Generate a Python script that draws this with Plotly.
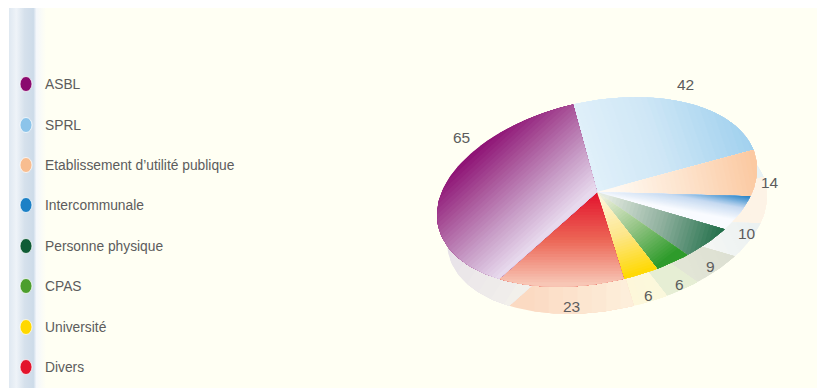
import math
import plotly.graph_objects as go

# Legend order
categories = ["ASBL", "SPRL", "Etablissement d\u2019utilité publique", "Intercommunale",
              "Personne physique", "CPAS", "Université", "Divers"]
values = [65, 42, 14, 10, 9, 6, 6, 23]
legend_colors = ["#8a0a6e", "#8cc4ea", "#f8bd90", "#1c80c6", "#0f5c36", "#4c9e2e", "#ffd800", "#e3142c"]

# Clockwise drawing order of the slices, starting from the top edge of SPRL
slice_order = [1, 2, 3, 4, 5, 6, 7, 0]

# Tilted pie projection
CX, CY = 597.0, 192.0
RX, RY_COS, RY_SIN = 160.0, 23.0, 92.0
START_T = 98.6
DEPTH = (10.0, 27.0)

# Linear gradient of each slice top: from point, to point, colour stops
top_gradients = {
    "ASBL": ((463, 157), (540, 241), ["#8b0a70", "#a9559a", "#c79cc6", "#e9dcef"]),
    "SPRL": ((575, 195), (752, 135), ["#e6f3fb", "#cfe7f6", "#9fd0ee"]),
    "Etablissement d\u2019utilité publique": ((612, 195), (756, 165), ["#fffaf3", "#fde3cc", "#fbc8a0"]),
    "Intercommunale": ((737, 221), (742, 194), ["#fbfcff", "#c6daf1", "#1a7cc4"]),
    "Personne physique": ((606, 194), (725, 228), ["#e6ece2", "#8fb09e", "#1f6e48"]),
    "CPAS": ((602, 197), (657, 268), ["#eef0dc", "#93c484", "#2b9a28"]),
    "Université": ((600, 198), (625, 278), ["#fdf6d8", "#fde68a", "#ffd900"]),
    "Divers": ((598, 195), (598, 285), ["#e3162f", "#ec6656", "#f8c9b8"]),
}

# Side wall colours, from left end to right end of the slice
side_gradients = {
    "ASBL": ((445, 240), (540, 300), ["#e6e1e8", "#f5f3ec"]),
    "SPRL": ((600, 150), (770, 150), ["#e8f2f4", "#e8f2f4"]),
    "Etablissement d\u2019utilité publique": ((600, 220), (770, 200), ["#fdf4e8", "#fdf3e6"]),
    "Intercommunale": ((700, 260), (770, 225), ["#f6f8f5", "#e9eff0"]),
    "Personne physique": ((690, 280), (740, 258), ["#e2e5d6", "#dcdfd2"]),
    "CPAS": ((660, 290), (700, 280), ["#e6eed4", "#e6eed4"]),
    "Université": ((630, 300), (665, 290), ["#fdf7da", "#fbf8dc"]),
    "Divers": ((520, 300), (635, 300), ["#fbd8c0", "#fdf0dc"]),
}

# Value labels
label_pos = {"ASBL": (461, 137), "SPRL": (685, 84), "Etablissement d\u2019utilité publique": (770, 182),
             "Intercommunale": (747, 233), "Personne physique": (710, 266), "CPAS": (679, 284),
             "Université": (648, 295), "Divers": (571, 306)}

legend_y = [84, 125, 165, 205, 246, 286, 327, 367]


def rim_point(t_deg, shift=(0.0, 0.0)):
    t = math.radians(t_deg)
    return (CX + RX * math.cos(t) + shift[0],
            CY - (RY_COS * math.cos(t) + RY_SIN * math.sin(t)) + shift[1])


def wedge(t0, t1, shift=(0.0, 0.0)):
    steps = max(4, int(abs(t1 - t0) / 1.5))
    pts = [(CX + shift[0], CY + shift[1])]
    pts += [rim_point(t0 + (t1 - t0) * i / steps, shift) for i in range(steps + 1)]
    return pts


def clip(poly, a, b, limit, keep_above):
    """Clip a polygon against the half plane a*x + b*y >= limit (or <=)."""
    out = []
    sign = 1 if keep_above else -1
    n = len(poly)
    for i in range(n):
        p, q = poly[i], poly[(i + 1) % n]
        dp = sign * (a * p[0] + b * p[1] - limit)
        dq = sign * (a * q[0] + b * q[1] - limit)
        if dp >= 0:
            out.append(p)
        if dp * dq < 0:
            r = dp / (dp - dq)
            out.append((p[0] + (q[0] - p[0]) * r, p[1] + (q[1] - p[1]) * r))
    return out


def mix(stops, s):
    s = min(max(s, 0.0), 1.0) * (len(stops) - 1)
    i = min(int(s), len(stops) - 2)
    f = s - i
    c0 = [int(stops[i][k:k + 2], 16) for k in (1, 3, 5)]
    c1 = [int(stops[i + 1][k:k + 2], 16) for k in (1, 3, 5)]
    return "rgb(%d,%d,%d)" % tuple(round(u + (v - u) * f) for u, v in zip(c0, c1))


def add_gradient_polygon(fig, poly, grad, bands=22):
    (x0, y0), (x1, y1), stops = grad
    dx, dy = x1 - x0, y1 - y0
    norm = dx * dx + dy * dy
    a, b = dx / norm, dy / norm
    base = a * x0 + b * y0
    for k in range(bands):
        # Each band runs to the far end so the next one paints over the seam
        part = poly
        if k > 0:
            part = clip(part, a, b, base + k / bands, True)
        if len(part) < 3:
            continue
        xs = [p[0] for p in part] + [part[0][0]]
        ys = [p[1] for p in part] + [part[0][1]]
        fig.add_trace(go.Scatter(x=xs, y=ys, mode="lines", fill="toself", line=dict(width=0),
                                 fillcolor=mix(stops, (k + 0.5) / bands),
                                 hoverinfo="skip", showlegend=False))


total = sum(values)
sweeps = []
t = START_T
for idx in slice_order:
    sweep = values[idx] / total * 360.0
    sweeps.append((idx, t, t - sweep))
    t -= sweep

fig = go.Figure()

# Pale strip down the left side of the page
fig.add_trace(go.Scatter(
    x=[9, 46, 46, 9, 9], y=[8, 8, 388, 388, 8], mode="lines", line=dict(width=0), fill="toself",
    fillgradient=dict(type="horizontal", colorscale=[
        [0.0, "#dfe8f1"], [0.2, "#eef3f8"], [0.42, "#d6e1ec"], [0.66, "#cddbe9"],
        [0.74, "#f4f7fb"], [1.0, "#fffff3"]]),
    hoverinfo="skip", showlegend=False))

# Side wall: a pale copy of the pie, pushed down behind the top
for idx, t0, t1 in sweeps:
    add_gradient_polygon(fig, wedge(t0, t1, DEPTH), side_gradients[categories[idx]], bands=8)

# Pie top
for idx, t0, t1 in sweeps:
    add_gradient_polygon(fig, wedge(t0, t1), top_gradients[categories[idx]], bands=32)

# Value labels
for name, val in zip(categories, values):
    x, y = label_pos[name]
    fig.add_annotation(x=x, y=y, text=str(val), showarrow=False,
                       font=dict(family="Liberation Sans", size=15.5, color="#5c5c5c"))

# Legend
shapes = []
for name, col, y in zip(categories, legend_colors, legend_y):
    shapes.append(dict(type="circle", xref="x", yref="y", x0=20, x1=32, y0=y - 7.5, y1=y + 7.5,
                       fillcolor=col, line=dict(color="rgba(255,255,255,0.75)", width=1)))
    fig.add_annotation(x=42.5, y=y, text=name, showarrow=False, xanchor="left",
                       font=dict(family="Liberation Sans", size=13.8, color="#5c5c5c"))

fig.update_layout(
    width=817, height=388, margin=dict(l=0, r=0, t=0, b=0),
    paper_bgcolor="#ffffff", plot_bgcolor="#ffffff", shapes=shapes, showlegend=False,
    xaxis=dict(range=[0, 817], visible=False, fixedrange=True),
    yaxis=dict(range=[388, 0], visible=False, fixedrange=True),
)
fig.add_shape(type="rect", xref="x", yref="y", x0=46, x1=817, y0=8, y1=388,
              fillcolor="#fffff3", line=dict(width=0), layer="below")

fig.write_html("out.html", config=dict(displayModeBar=False))
